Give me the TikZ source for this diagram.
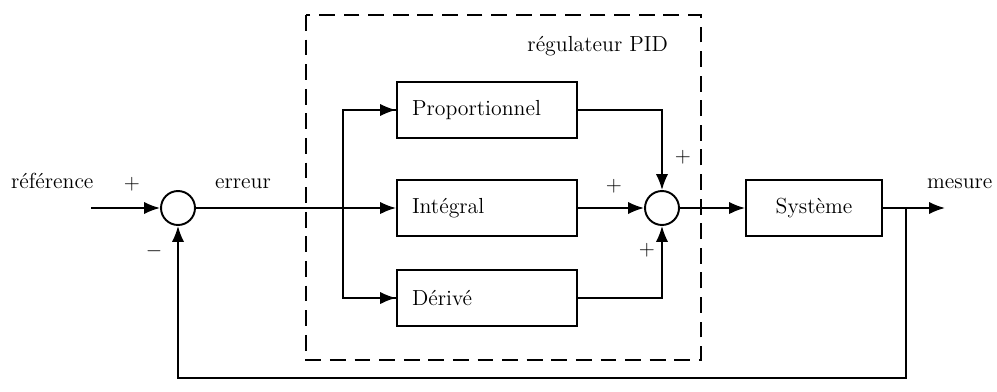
\documentclass[tikz,border=0pt]{standalone}
\usetikzlibrary{arrows.meta}
\begin{document}
\begin{tikzpicture}[x=0.02cm,y=-0.02cm,
  every node/.style={font=\fontsize{12.4}{15}\selectfont},
  line/.style={line width=1.1pt},
  arr/.style={line width=1.1pt,-{Latex[length=9pt,width=7pt]}},
  blk/.style={draw,line width=1.1pt,minimum width=3.6cm,minimum height=1.12cm,text width=3.0cm,align=left,inner sep=0pt},
  sumc/.style={draw,circle,line width=1.1pt,minimum size=0.68cm,inner sep=0pt},
  lbl/.style={inner sep=1pt}]
\useasboundingbox (0,0) rectangle (997,392);
% dashed PID box
\draw[line width=1.1pt,dash pattern=on 9pt off 5pt] (306,15) rectangle (701,360);
\node[lbl,anchor=east] (pidlbl) at (670,46) {régulateur PID};
% sums
\node[sumc] (s1) at (178,208) {};
\node[sumc] (s2) at (662,208) {};
% blocks
\node[blk] (P) at (487,110) {Proportionnel};
\node[blk] (I) at (487,208) {Intégral};
\node[blk] (D) at (487,298) {Dérivé};
\node[draw,line width=1.1pt,minimum width=2.72cm,minimum height=1.12cm,inner sep=0pt] (S) at (814,208) {Système};
% coordinates
\coordinate (in) at (91,208);
\coordinate (br) at (343,208);
\coordinate (tap) at (906,208);
\coordinate (out) at (945,208);
\coordinate (fb) at (906,378);
% texts
\node[lbl,anchor=base west] (ref) at (9,188) {référence};
\node[lbl,anchor=base] (err) at (243,188) {erreur};
\node[lbl,anchor=base west] (mes) at (925,188) {mesure};
\node[lbl] (p1) at (132,184) {$+$};
\node[lbl] (m1) at (154,251) {$-$};
\node[lbl] (p2) at (683,157) {$+$};
\node[lbl] (p3) at (614,186) {$+$};
\node[lbl] (p4) at (647,250) {$+$};
% connectors
\draw[arr] (in) -- (s1);
\draw[line] (s1) -- (br);
\draw[line] (br) |- (P.west);
\draw[line] (br) |- (D.west);
\draw[arr] (br |- P.west) -- (P.west);
\draw[arr] (br) -- (I.west);
\draw[arr] (br |- D.west) -- (D.west);
\draw[arr] (P.east) -| (s2.north);
\draw[arr] (I.east) -- (s2.west);
\draw[arr] (D.east) -| (s2.south);
\draw[arr] (s2.east) -- (S.west);
\draw[arr] (S.east) -- (out);
\draw[arr] (tap) -- (fb) -| (s1.south);
\end{tikzpicture}
\end{document}
